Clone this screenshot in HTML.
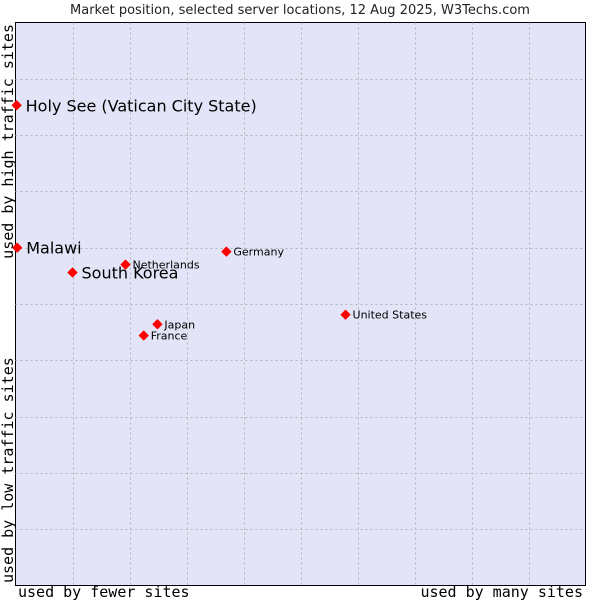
<!DOCTYPE html>
<html><head><meta charset="utf-8"><style>
html,body{margin:0;padding:0;background:#fff;width:600px;height:600px;overflow:hidden}
svg{display:block}
</style></head><body>
<svg id="chart" width="600" height="600" xmlns="http://www.w3.org/2000/svg">
<text x="300" y="14" text-anchor="middle" font-family="DejaVu Sans, sans-serif" font-size="13" fill="#222">Market position, selected server locations, 12 Aug 2025, W3Techs.com</text>
<rect x="15.5" y="22.5" width="570" height="563" fill="#e4e4f8" stroke="#000" stroke-width="1"/>
<g id="grid"></g>
<g id="marks"></g>
<text x="18" y="597" font-family="DejaVu Sans Mono, monospace" font-size="15" fill="#000">used by fewer sites</text>
<text x="583" y="597" text-anchor="end" font-family="DejaVu Sans Mono, monospace" font-size="15" fill="#000">used by many sites</text>
<text transform="translate(13,24) rotate(-90)" text-anchor="end" font-family="DejaVu Sans Mono, monospace" font-size="15" fill="#000">used by high traffic sites</text>
<text transform="translate(13,583) rotate(-90)" font-family="DejaVu Sans Mono, monospace" font-size="15" fill="#000">used by low traffic sites</text>
</svg>
<script>
const countries = ["Holy See (Vatican City State)","Malawi","South Korea","Netherlands","Germany","United States","Japan","France"];
const xValues = [0.2,0.3,10,19.3,37,57.9,24.9,22.5];
const yValues = [85.3,60,55.6,57,59.3,48.1,46.4,44.4];
const highlighted = [true,true,true,false,false,false,false,false];
const gridTicks = [10,20,30,40,50,60,70,80,90];

const NS="http://www.w3.org/2000/svg";
const L=15.5,R=585.5,T=22.5,B=585.5;
const xs=v=>L+(R-L)*v/100;
const ys=v=>B-(B-T)*v/100;
const grid=document.getElementById('grid');
gridTicks.forEach(t=>{
  const v=document.createElementNS(NS,'line');
  
  
  const x=Math.round(xs(t))+0.5;
  v.setAttribute('x1',x);v.setAttribute('x2',x);v.setAttribute('y1',T);v.setAttribute('y2',B);
  v.setAttribute('stroke','#b4b4b4');v.setAttribute('stroke-dasharray','2,3');
  grid.appendChild(v);
  const h=document.createElementNS(NS,'line');
  
  
  const y=Math.round(ys(t))+0.5;
  h.setAttribute('x1',L);h.setAttribute('x2',R);h.setAttribute('y1',y);h.setAttribute('y2',y);
  h.setAttribute('stroke','#b4b4b4');h.setAttribute('stroke-dasharray','2,3');
  grid.appendChild(h);
});
const marks=document.getElementById('marks');
countries.forEach((c,i)=>{
  const x=xs(xValues[i]),y=ys(yValues[i]);
  const d=document.createElementNS(NS,'path');
  
  
  d.setAttribute('d',`M${x} ${y-4.5}L${x+4.5} ${y}L${x} ${y+4.5}L${x-4.5} ${y}Z`);
  d.setAttribute('fill','#f00');
  d.setAttribute('stroke','#f00');d.setAttribute('stroke-width','1');d.setAttribute('stroke-linejoin','round');
  marks.appendChild(d);
  const t=document.createElementNS(NS,'text');
  
  
  const big=highlighted[i];
  t.setAttribute('x',x+(big?9:7));
  t.setAttribute('y',y+(big?6:4));
  t.setAttribute('font-family','DejaVu Sans, sans-serif');
  t.setAttribute('font-size',big?16:11);
  t.setAttribute('fill','#000');
  t.textContent=c;
  marks.appendChild(t);
});
</script>
</body></html>
